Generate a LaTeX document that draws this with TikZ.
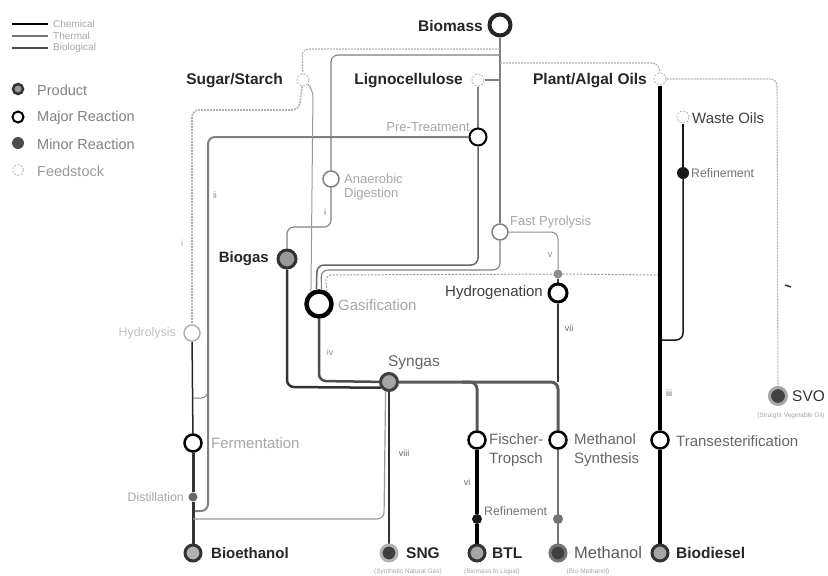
\documentclass[tikz,border=0pt]{standalone}
\usepackage{fontspec}
\setmainfont{Liberation Sans}
\usetikzlibrary{backgrounds}
\newcommand\myfA{\fontsize{15.5}{18}\selectfont\bfseries}
\newcommand\myfB{\fontsize{15}{19}\selectfont}
\newcommand\myfC{\fontsize{13}{14}\selectfont}
\newcommand\myfD{\fontsize{12.3}{14}\selectfont}
\newcommand\myfE{\fontsize{9}{10}\selectfont}
\newcommand\myfF{\fontsize{6.5}{8}\selectfont}
\newcommand\myfG{\fontsize{14.5}{16}\selectfont}
\newcommand\myfH{\fontsize{10}{12}\selectfont}
\begin{document}
\begin{tikzpicture}[x=1pt,y=-1pt,
  prod/.style={circle,minimum size=16pt,inner sep=0pt,fill=black!40,draw=black!80,line width=3pt},
  prodd/.style={circle,minimum size=16pt,inner sep=0pt,fill=black!75,draw=black!40,line width=3pt},
  major/.style={circle,minimum size=17pt,inner sep=0pt,fill=white,draw=black,line width=2.5pt},
  majorl/.style={circle,minimum size=16pt,inner sep=0pt,fill=white,draw=black!50,line width=1.5pt},
  minor/.style={circle,minimum size=10pt,inner sep=0pt,fill=black!70,draw=none},
  feed/.style={circle,minimum size=12pt,inner sep=0pt,fill=white,draw=black!25,dash pattern=on 2pt off 1.5pt,line width=1pt},
  tb/.style={inner sep=0pt,font=\myfA,text=black!85},
  tr/.style={inner sep=0pt,font=\myfB,text=black!75},
  tl/.style={inner sep=0pt,font=\myfB,text=black!35},
  ts/.style={inner sep=0pt,font=\myfC,text=black!35},
  tf/.style={inner sep=0pt,font=\myfD,text=black!55},
  tn/.style={inner sep=0pt,font=\myfE,text=black!60},
  tsub/.style={inner sep=0pt,font=\myfF,text=black!35},
  lnA/.style={draw=black!50,line width=1.1pt,rounded corners=7pt},
  lnL/.style={draw=black!30,line width=1.1pt,dash pattern=on 2pt off 1pt,rounded corners=7pt},
  lnM/.style={draw=black!50,line width=2pt,rounded corners=7pt},
  lnD/.style={draw=black!80,line width=2.5pt,rounded corners=7pt},
]
\useasboundingbox (0,0) rectangle (828,576);

% ---- legend ----
\coordinate (lg1a) at (12,24); \coordinate (lg1b) at (48,24);
\coordinate (lg2a) at (12,36); \coordinate (lg2b) at (48,36);
\coordinate (lg3a) at (12,48); \coordinate (lg3b) at (48,48);
\draw[black,line width=2.5pt] (lg1a) -- (lg1b);
\draw[black!55,line width=2.5pt] (lg2a) -- (lg2b);
\draw[black!70,line width=1.8pt] (lg3a) -- (lg3b);
\node[inner sep=0pt,font=\myfH,text=black!35,anchor=west] (lgt1) at (53,24) {Chemical};
\node[inner sep=0pt,font=\myfH,text=black!35,anchor=west] (lgt2) at (53,36) {Thermal};
\node[inner sep=0pt,font=\myfH,text=black!35,anchor=west] (lgt3) at (53,48) {Biological};
\node[prod,minimum size=10pt,line width=2.5pt] (lgp) at (18,89) {};
\node[major,minimum size=11pt,line width=2pt] (lgm) at (18,117) {};
\node[minor,minimum size=12pt] (lgn) at (18,143) {};
\node[feed,minimum size=11pt] (lgf) at (18,170) {};
\node[inner sep=0pt,font=\myfG,text=black!50,anchor=west] (lgpt) at (37,90) {Product};
\node[inner sep=0pt,font=\myfG,text=black!50,anchor=west] (lgmt) at (37,118) {Major Reaction};
\node[inner sep=0pt,font=\myfG,text=black!50,anchor=west] (lgnt) at (37,144) {Minor Reaction};
\node[inner sep=0pt,font=\myfG,text=black!40,anchor=west] (lgft) at (37,171) {Feedstock};

% ---- stations ----
\node[circle,minimum size=21pt,inner sep=0pt,fill=white,draw=black!85,line width=4pt] (biomass) at (500,25) {};
\node[feed] (sugar) at (303,80) {};
\node[feed] (ligno) at (478,80) {};
\node[feed] (oils) at (660,79) {};
\node[feed] (waste) at (683,117) {};
\node[major,line width=2pt] (pretreat) at (478,137) {};
\node[majorl] (anaer) at (331,179) {};
\node[majorl] (fastpyr) at (500,232) {};
\node[minor,fill=black!90,minimum size=12pt] (refine1) at (683,173) {};
\node[minor,fill=black!45,minimum size=9pt] (hydromin) at (558,274) {};
\node[major,minimum size=18pt,line width=3pt] (hydro) at (558,293) {};
\node[prod,minimum size=18pt] (biogas) at (287,259) {};
\node[circle,minimum size=25pt,inner sep=0pt,fill=white,draw=black,line width=4.5pt] (gasif) at (319,304) {};
\node[majorl,draw=black!30] (hydrolysis) at (192,333) {};
\node[prod,minimum size=17pt,fill=black!35,draw=black!75] (syngas) at (389,382) {};
\node[major] (ferm) at (193,443) {};
\node[major] (ft) at (477,440) {};
\node[major] (msyn) at (558,440) {};
\node[major] (trans) at (660,440) {};
\node[prodd,minimum size=17pt,draw=black!35] (svo) at (778,396) {};
\node[minor,minimum size=9pt,fill=black!60] (distill) at (193,497) {};
\node[minor,fill=black!90] (refine2) at (477,519) {};
\node[minor,fill=black!55] (mmin) at (558,519) {};
\node[prod,fill=black!30] (bioeth) at (193,553) {};
\node[prodd,draw=black!30] (sng) at (389,553) {};
\node[prod,fill=black!35] (btl) at (477,553) {};
\node[prodd,draw=black!55] (methanol) at (558,553) {};
\node[prod,fill=black!35] (biodiesel) at (660,553) {};

% ---- connectors ----
\begin{pgfonlayer}{background}
\coordinate (b49) at (500,49);
\coordinate (b55) at (500,55);
\coordinate (b63) at (500,63);
\coordinate (b80) at (500,80);
\draw[lnA] (biomass) -- (fastpyr);
\draw[lnA] (fastpyr) -- (500,270) -- (321,270) -- (gasif.80);
\draw[lnL] (b49) -- (302,49) -- (sugar);
\draw[lnA] (b55) -- (331,55) -- (anaer);
\draw[lnA] (anaer) -- (331,227) -- (287,227) -- (biogas);
\draw[lnL] (b63) -- (659,63) -- (oils);
\draw[lnA] (b80) -- (ligno);
\draw[lnA] (ligno) -- (pretreat);
\draw[lnA,draw=black!60,line width=1.5pt] (pretreat) -- (478,265) -- (317,265) -- (gasif.100);
\draw[lnM] (pretreat) -- (208,137) -- (208,511) -- (193,511);
\draw[lnA,line width=1pt] (208,385) -- (208,398) -- (193,398);
\draw[lnL,draw=black!30,line width=1.6pt] (sugar) -- (299,110) -- (192,110) -- (hydrolysis);
\draw[lnA,draw=black!40,line width=1pt] (sugar.-40) -- (313,90) -- (gasif.123);
\draw[draw=black!85,line width=1.5pt] (hydrolysis) -- (ferm);
\draw[lnD,line width=3pt] (ferm) -- (distill);
\draw[lnD,line width=3pt] (distill) -- (bioeth);
\draw[lnD,draw=black!70] (gasif) -- (319,381) -- (syngas);
\draw[lnD] (biogas) -- (287,387) -- (syngas.-145);
\draw[lnD,draw=black!65,line width=3pt] (syngas) -- (558,382) -- (msyn);
\draw[lnD,draw=black!65,line width=3pt] (462,382) -- (477,382) -- (ft);
\draw[lnD,line width=2pt] (syngas) -- (sng);
\draw[lnA,draw=black!40,line width=1.2pt] (syngas.-110) -- (384,519) -- (193,519);
\draw[black,line width=3.5pt] (ft) -- (refine2);
\draw[black,line width=3.5pt] (refine2) -- (btl);
\draw[draw=black!55,line width=2.5pt] (msyn) -- (mmin);
\draw[draw=black!55,line width=2.5pt] (mmin) -- (methanol);
\draw[lnD] (hydro) -- (558,382);
\draw[lnA,draw=black!45,line width=1pt] (fastpyr) -- (558,232) -- (hydromin);
\draw[draw=black!40,line width=1pt,dash pattern=on 2pt off 1.5pt,rounded corners=7pt] (gasif.57) -- (325,275) -- (hydromin);
\draw[draw=black!40,line width=1pt,dash pattern=on 2pt off 1.5pt] (hydromin) -- (660,275);
\draw[draw=black!75,line width=2pt] (hydromin) -- (hydro);
\draw[black,line width=4.5pt] (oils) -- (trans);
\draw[black,line width=4.5pt] (trans) -- (biodiesel);
\draw[draw=black!90,line width=1.5pt] (waste) -- (refine1);
\draw[draw=black!90,line width=1.5pt,rounded corners=7pt] (refine1) -- (683,340) -- (661,340);
\draw[lnL] (oils) -- (777,79) -- (svo);
\end{pgfonlayer}

% stray mark
\coordinate (mk1) at (785,285); \coordinate (mk2) at (791,287);
\draw[black!80,line width=1.5pt] (mk1) -- (mk2);

% ---- labels ----
\node[tb,anchor=east] (tbiomass) at (483,26) {Biomass};
\node[tb,anchor=east] (tsugar) at (283,81) {Sugar/Starch};
\node[tb,anchor=east] (tligno) at (463,81) {Lignocellulose};
\node[tb,anchor=east] (toils) at (647,81) {Plant/Algal Oils};
\node[tr,anchor=west] (twaste) at (692,118) {Waste Oils};
\node[tf,anchor=west] (tref1) at (691,173) {Refinement};
\node[ts,anchor=east] (tpre) at (470,127) {Pre-Treatment};
\node[ts,anchor=west,align=left,font=\fontsize{13}{14}\selectfont] (tanaer) at (344,187) {Anaerobic\\Digestion};
\node[ts,anchor=west] (tfast) at (510,222) {Fast Pyrolysis};
\node[tr,anchor=east] (thydro) at (543,293) {Hydrogenation};
\node[tb,anchor=east,font=\fontsize{15}{18}\selectfont\bfseries] (tbiogas) at (269,259) {Biogas};
\node[tl,anchor=west] (tgasif) at (338,305) {Gasification};
\node[ts,anchor=east,text=black!25,font=\fontsize{12.4}{14}\selectfont] (thydrol) at (176,333) {Hydrolysis};
\node[inner sep=0pt,font=\fontsize{15.5}{18}\selectfont,text=black!60] (tsyngas) at (414,363) {Syngas};
\node[tl,anchor=west] (tferm) at (211,443) {Fermentation};
\node[tf,anchor=east,text=black!35] (tdist) at (184,497) {Distillation};
\node[tb,anchor=west,font=\fontsize{15}{18}\selectfont\bfseries] (tbioeth) at (211,553) {Bioethanol};
\node[tb,anchor=west] (tsng) at (406,553) {SNG};
\node[tb,anchor=west] (tbtl) at (492,553) {BTL};
\node[tr,anchor=west,font=\fontsize{16.5}{19}\selectfont,text=black!65] (tmeth) at (574,553) {Methanol};
\node[tb,anchor=west] (tbiod) at (676,553) {Biodiesel};
\node[tr,anchor=west,font=\fontsize{15.5}{18}\selectfont,text=black!80] (tsvo) at (792,396) {SVO};
\node[tr,anchor=north west,align=left,text=black!60] (tft) at (489,433) {Fischer-\\Tropsch};
\node[tr,anchor=north west,align=left,text=black!60] (tmsyn) at (574,433) {Methanol\\Synthesis};
\node[tr,anchor=west,text=black!60] (ttrans) at (676,441) {Transesterification};
\node[tf,anchor=west] (tref2) at (484,511) {Refinement};
% subtitles
\node[tsub] (ssng) at (408,572) {(Synthetic Natural Gas)};
\node[tsub] (sbtl) at (492,572) {(Biomass to Liquid)};
\node[tsub] (smeth) at (588,572) {(Bio-Methanol)};
\node[tsub] (ssvo) at (791,416) {(Straight Vegetable Oil)};
% route numerals
\node[tn,text=black!35] (n1) at (182,243) {i};
\node[tn,text=black!45] (n2) at (215,195) {ii};
\node[tn] (n3) at (325,212) {i};
\node[tn,text=black!45] (n4) at (330,352) {iv};
\node[tn,text=black!45] (n5) at (550,255) {v};
\node[tn] (n7) at (569,328) {vii};
\node[tn] (n6) at (467,482) {vi};
\node[tn] (n8) at (669,393) {iii};
\node[tn] (n9) at (404,453) {viii};
\end{tikzpicture}
\end{document}
